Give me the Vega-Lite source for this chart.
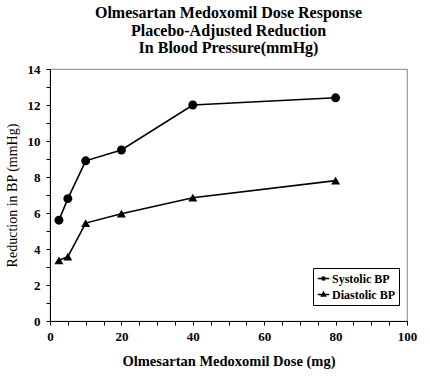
{
  "$schema": "https://vega.github.io/schema/vega-lite/v6.json",
  "autosize": "none",
  "width": 357,
  "height": 252,
  "padding": {"left": 50, "top": 69, "right": 23, "bottom": 62},
  "background": "white",
  "title": {
    "text": ["Olmesartan Medoxomil Dose Response", "Placebo-Adjusted Reduction", "In Blood Pressure(mmHg)"],
    "font": "Liberation Serif",
    "fontSize": 16,
    "fontWeight": "bold",
    "lineHeight": 17.5,
    "color": "black",
    "anchor": "middle",
    "offset": 7
  },
  "data": {
    "values": [
      {"dose": 2.5, "bp": 5.6, "series": "Systolic BP"},
      {"dose": 5, "bp": 6.8, "series": "Systolic BP"},
      {"dose": 10, "bp": 8.9, "series": "Systolic BP"},
      {"dose": 20, "bp": 9.5, "series": "Systolic BP"},
      {"dose": 40, "bp": 12.0, "series": "Systolic BP"},
      {"dose": 80, "bp": 12.4, "series": "Systolic BP"},
      {"dose": 2.5, "bp": 3.37, "series": "Diastolic BP"},
      {"dose": 5, "bp": 3.57, "series": "Diastolic BP"},
      {"dose": 10, "bp": 5.44, "series": "Diastolic BP"},
      {"dose": 20, "bp": 5.96, "series": "Diastolic BP"},
      {"dose": 40, "bp": 6.85, "series": "Diastolic BP"},
      {"dose": 80, "bp": 7.8, "series": "Diastolic BP"}
    ]
  },
  "encoding": {
    "x": {
      "field": "dose", "type": "quantitative",
      "scale": {"domain": [0, 100], "nice": false},
      "axis": {
        "title": "Olmesartan  Medoxomil Dose (mg)",
        "values": [0,5,10,15,20,25,30,35,40,45,50,55,60,65,70,75,80,85,90,95,100],
        "labelExpr": "datum.value % 20 === 0 ? datum.label : ''",
        "labelOverlap": false,
        "labelFlush": false,
        "tickSize": 4,
        "labelPadding": 5,
        "titlePadding": 11,
        "titleFontSize": 14.5,
        "titleFontWeight": "bold",
        "encode": {"ticks": {"update": {"y": {"signal": "datum.value % 20 === 0 ? -4 : 0"}, "y2": {"signal": "datum.value % 20 === 0 ? 4 : -3"}}}}
      }
    },
    "y": {
      "field": "bp", "type": "quantitative",
      "scale": {"domain": [0, 14], "nice": false},
      "axis": {
        "title": "Reduction in BP (mmHg)",
        "values": [0,1,2,3,4,5,6,7,8,9,10,11,12,13,14],
        "labelExpr": "datum.value % 2 === 0 ? datum.label : ''",
        "labelOverlap": false,
        "labelFlush": false,
        "tickSize": 4,
        "labelPadding": 6,
        "titlePadding": 8,
        "titleFontSize": 14,
        "titleFontWeight": "normal",
        "encode": {"ticks": {"update": {"x": {"signal": "datum.value % 2 === 0 ? -4 : 0"}, "x2": {"signal": "datum.value % 2 === 0 ? 4 : 3"}}}}
      }
    }
  },
  "layer": [
    {
      "mark": {"type": "line", "strokeWidth": 1.6},
      "encoding": {
        "color": {
          "field": "series", "type": "nominal",
          "scale": {"domain": ["Systolic BP", "Diastolic BP"], "range": ["black", "black"]},
          "legend": {
            "title": null,
            "orient": "none",
            "legendX": 263,
            "legendY": 199,
            "strokeColor": "black",
            "fillColor": "white",
            "padding": 4,
            "rowPadding": 3,
            "labelFont": "Liberation Serif",
            "labelFontSize": 12,
            "labelFontWeight": "bold",
            "labelColor": "black",
            "labelOffset": 2,
            "symbolSize": 132,
            "encode": {
              "symbols": {
                "update": {
                  "shape": {"signal": "datum.value === 'Systolic BP' ? 'M-1,0H1M0.26,0A0.26,0.26,0,1,1,-0.26,0A0.26,0.26,0,1,1,0.26,0Z' : 'M-1,0H1M0,-0.36L0.34,0.26L-0.34,0.26Z'"},
                  "fill": {"value": "black"},
                  "stroke": {"value": "black"},
                  "strokeWidth": {"value": 1.5},
                  "opacity": {"value": 1}
                }
              }
            }
          }
        }
      }
    },
    {
      "transform": [{"filter": "datum.series === 'Systolic BP'"}],
      "mark": {"type": "point", "filled": true, "size": 80, "shape": "circle", "color": "black", "opacity": 1}
    },
    {
      "transform": [{"filter": "datum.series === 'Diastolic BP'"}],
      "mark": {"type": "point", "filled": true, "size": 80, "shape": "triangle-up", "color": "black", "opacity": 1}
    }
  ],
  "config": {
    "view": {"stroke": "#9a9a9a", "strokeWidth": 1.2},
    "axis": {
      "grid": false,
      "domainColor": "black",
      "tickColor": "black",
      "labelColor": "black",
      "titleColor": "black",
      "labelFont": "Liberation Serif",
      "labelFontSize": 13,
      "labelFontWeight": "bold",
      "titleFont": "Liberation Serif"
    }
  }
}
